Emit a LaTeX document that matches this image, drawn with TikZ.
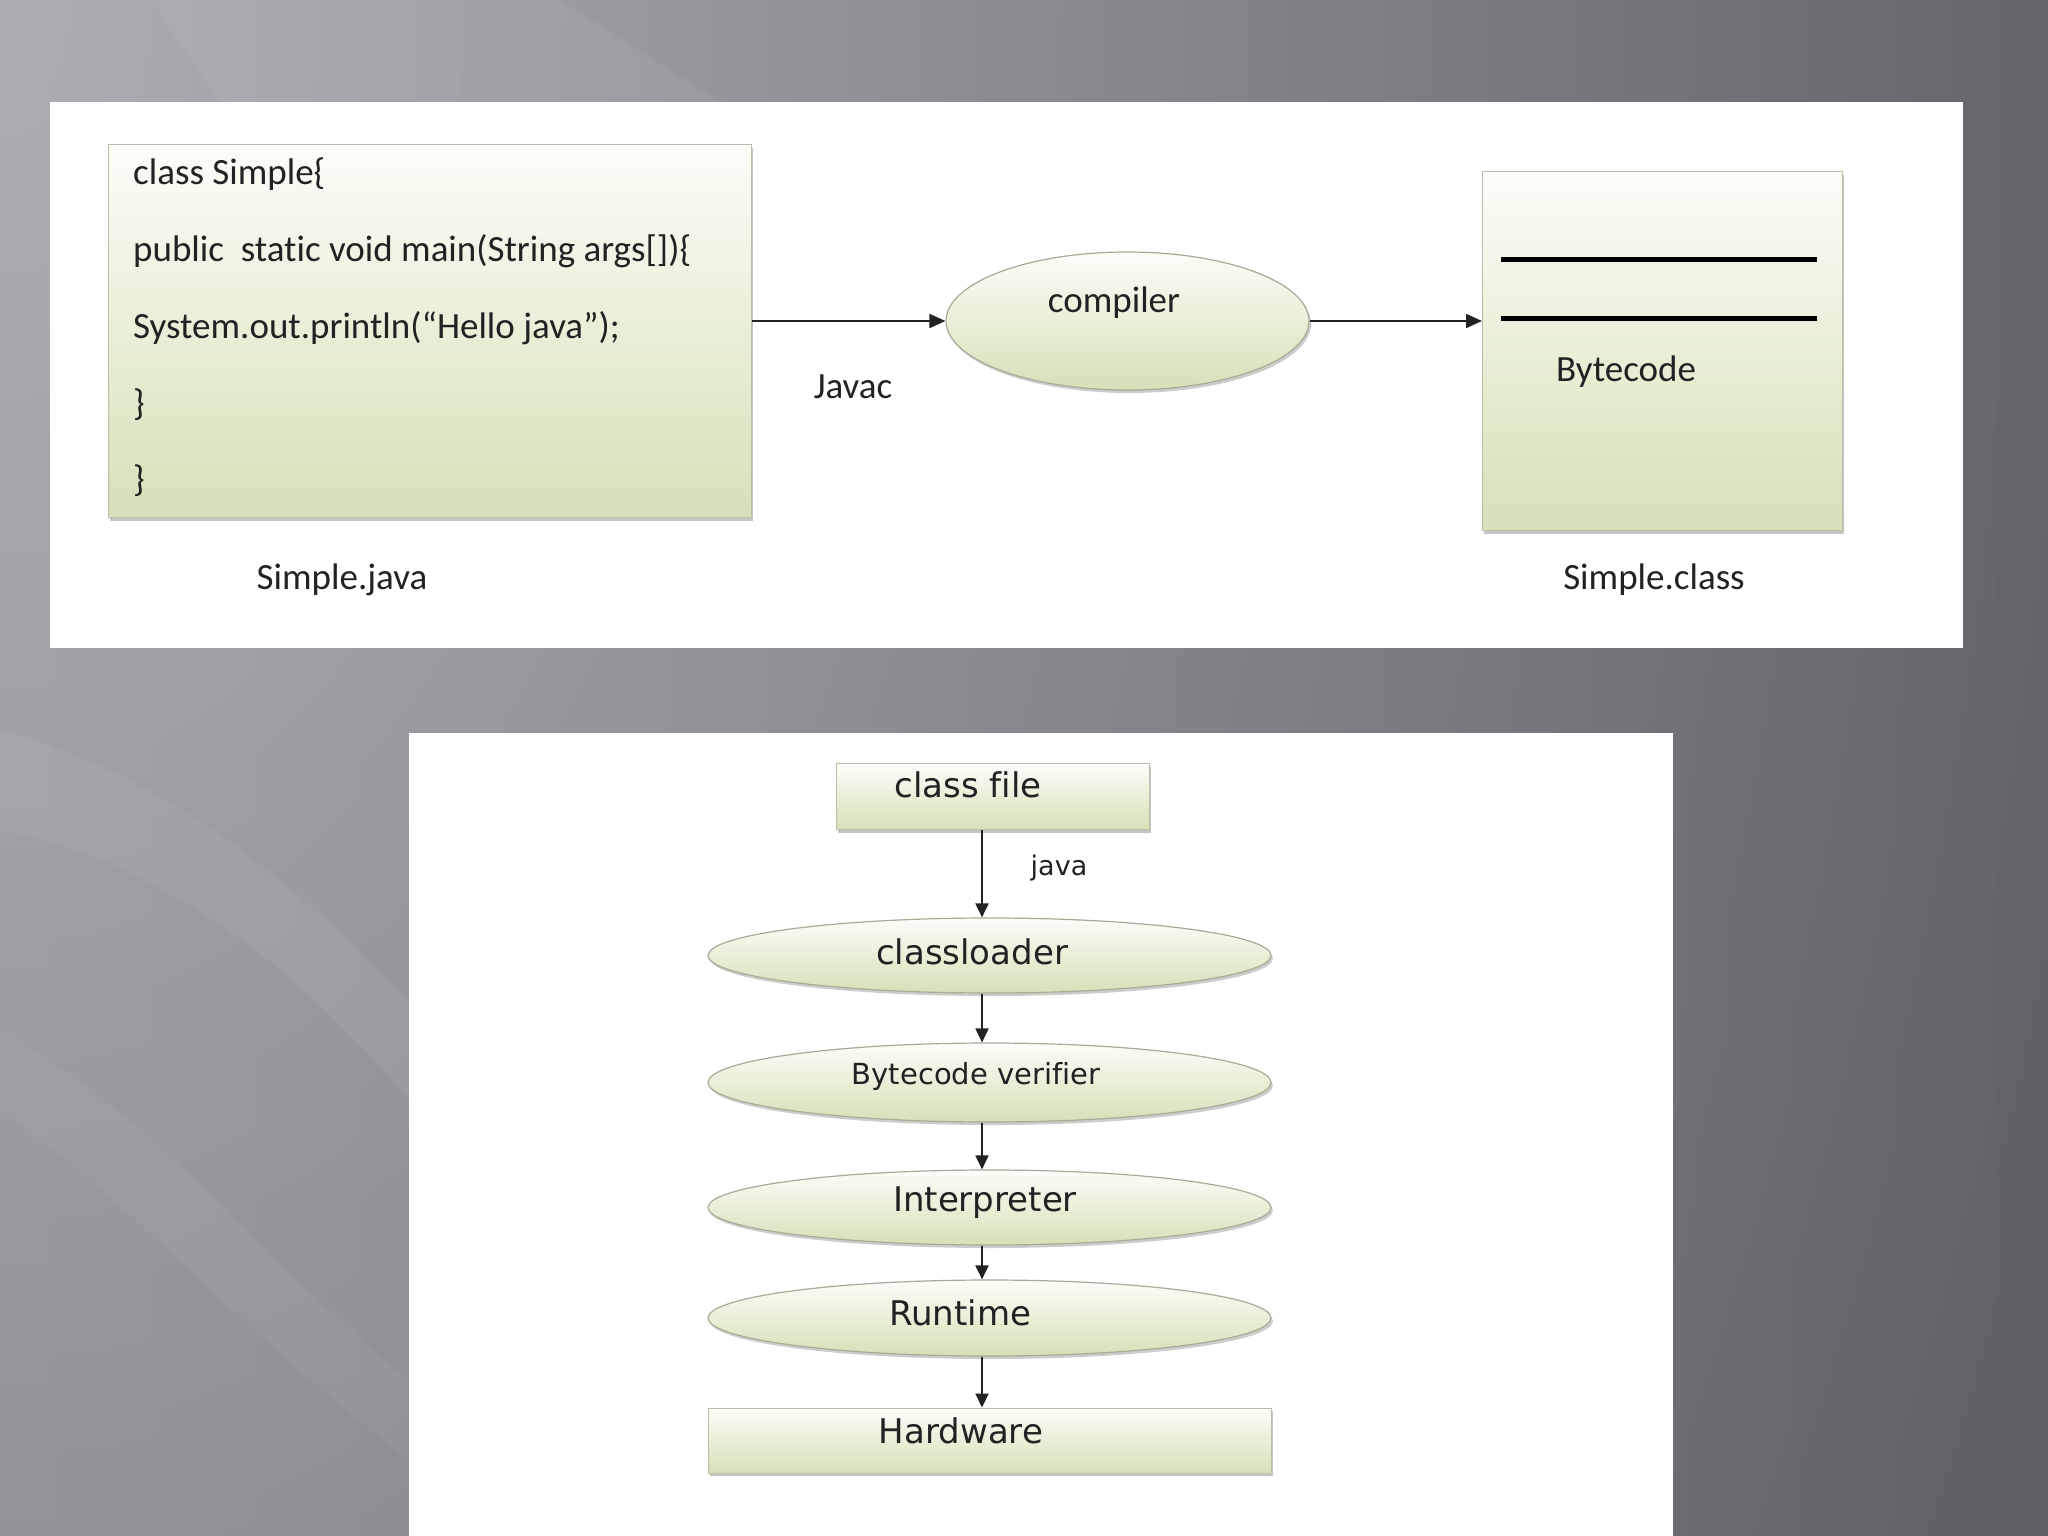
\documentclass[tikz,border=0pt]{standalone}
\usepackage{fontspec}
\setmainfont[Ligatures={NoCommon}]{Carlito}
\newfontfamily\vfont[Ligatures={NoCommon}]{DejaVu Sans}
\usetikzlibrary{arrows.meta,shapes.geometric,shadows,fadings,calc}

\definecolor{gtop}{HTML}{FCFDF8}
\definecolor{gbot}{HTML}{D5E1B8}
\definecolor{gedge}{HTML}{B8BFA6}
\definecolor{txt}{HTML}{222222}
\definecolor{bga}{HTML}{7E7B85}
\definecolor{bgb}{HTML}{76727C}
\definecolor{bgc}{HTML}{6C6870}
\definecolor{bgd}{HTML}{626067}
\definecolor{bge}{HTML}{58555D}
\pgfdeclarehorizontalshading{bgshade}{100bp}{color(0bp)=(bga); color(25bp)=(bgb); color(50bp)=(bgc); color(75bp)=(bgd); color(100bp)=(bge)}
\tikzfading[name=glowfade, inner color=transparent!0, outer color=transparent!100]

\tikzset{
  box/.style={rectangle, draw=gedge, line width=1.2pt, top color=gtop, bottom color=gbot, inner sep=0pt,
    drop shadow={shadow xshift=1pt, shadow yshift=-3pt, fill=black!50, opacity=0.45}},
  ell/.style={ellipse, draw=gedge!90!black, line width=1.2pt, top color=gtop, bottom color=gbot, inner sep=0pt,
    drop shadow={shadow xshift=2pt, shadow yshift=-3pt, fill=black!50, opacity=0.4}},
  toptext/.style={inner sep=0pt, text=txt, font=\fontsize{37}{44}\selectfont},
  bottext/.style={inner sep=0pt, text=txt, font=\vfont\fontsize{34}{40}\selectfont},
  arr/.style={-{Triangle[length=16pt,width=14pt]}, line width=2pt, draw=txt},
  varr/.style={-{Triangle[length=14pt,width=13pt]}, line width=2pt, draw=txt},
}

\begin{document}
\begin{tikzpicture}[x=1pt,y=-1pt]
\useasboundingbox (0,0) rectangle (2048,1536);
% background
\fill[shading=bgshade] (0,0) rectangle (2048,1536);
\begin{scope}
\clip (0,0) rectangle (2048,1536);
\fill[white, opacity=0.42, path fading=glowfade] (0,0) ellipse [x radius=2200, y radius=3400];
\fill[white, opacity=0.05] (150,0) -- (560,0) -- (720,102) -- (220,102) -- cycle;
\fill[white, opacity=0.05] (0,730) .. controls (180,780) and (300,890) .. (409,1000) -- (409,1100) .. controls (300,970) and (160,860) .. (0,830) -- cycle;
\fill[white, opacity=0.04] (0,1030) .. controls (150,1110) and (260,1260) .. (409,1380) -- (409,1460) .. controls (250,1340) and (130,1200) .. (0,1110) -- cycle;
\end{scope}
% panels
\fill[white] (50,102) rectangle (1963,648);
\fill[white] (409,733) rectangle (1673,1536);

% ---- top diagram ----
\node[box, minimum width=643, minimum height=373, anchor=north west] (src) at (108,144) {};
\node[toptext, anchor=west] (c1) at (133,174) {class Simple\{};
\node[toptext, anchor=west] (c2) at (133,251) {public\ \ static void main(String args[])\{};
\node[toptext, anchor=west] (c3) at (133,328) {System.out.println(“Hello java”);};
\node[toptext, anchor=west] (c4) at (133,405) {\}};
\node[toptext, anchor=west] (c5) at (133,481) {\}};
\node[toptext] (sj) at (342,580) {Simple.java};

\node[ell, minimum width=363, minimum height=138] (comp) at (1127.5,321) {};
\node[toptext] (compt) at (1114,303) {compiler};
\node[toptext] (javac) at (853,387) {Javac};

\node[box, minimum width=360, minimum height=359, anchor=north west] (cls) at (1482,171) {};
\draw[line width=5pt, draw=black] (1501,259) -- (1817,259);
\draw[line width=5pt, draw=black] (1501,318) -- (1817,318);
\node[toptext] (bc) at (1626,372) {Bytecode};
\node[toptext] (sc) at (1654,580) {Simple.class};

\draw[arr] (comp.west -| src.east) -- (comp.west);
\draw[arr] (comp.east) -- (comp.east -| cls.west);

% ---- bottom diagram ----
\coordinate (ax) at (982,0);
\node[box, minimum width=313, minimum height=66, anchor=north west] (cf) at (836,763) {};
\node[bottext] (cft) at (968,785) {class file};
\node[ell, minimum width=563, minimum height=75] (cl) at (989.5,955.5) {};
\node[bottext] (clt) at (972,952) {classloader};
\node[ell, minimum width=563, minimum height=79] (bv) at (989.5,1082.5) {};
\node[bottext, font=\vfont\fontsize{29}{34}\selectfont] (bvt) at (976,1076) {Bytecode verifier};
\node[ell, minimum width=563, minimum height=75] (ip) at (989.5,1207.5) {};
\node[bottext] (ipt) at (985,1203) {Interpreter};
\node[ell, minimum width=563, minimum height=76] (rt) at (989.5,1318) {};
\node[bottext] (rtt) at (960,1313) {Runtime};
\node[box, minimum width=563, minimum height=65, anchor=north west] (hw) at (708,1407.5) {};
\node[bottext] (hwt) at (961,1431) {Hardware};
\node[bottext, font=\vfont\fontsize{27}{32}\selectfont] (jv) at (1059,868) {java};

\draw[varr] (cf.south -| ax) -- (cl.north -| ax);
\draw[varr] (cl.south -| ax) -- (bv.north -| ax);
\draw[varr] (bv.south -| ax) -- (ip.north -| ax);
\draw[varr] (ip.south -| ax) -- (rt.north -| ax);
\draw[varr] (rt.south -| ax) -- (hw.north -| ax);
\end{tikzpicture}
\end{document}
